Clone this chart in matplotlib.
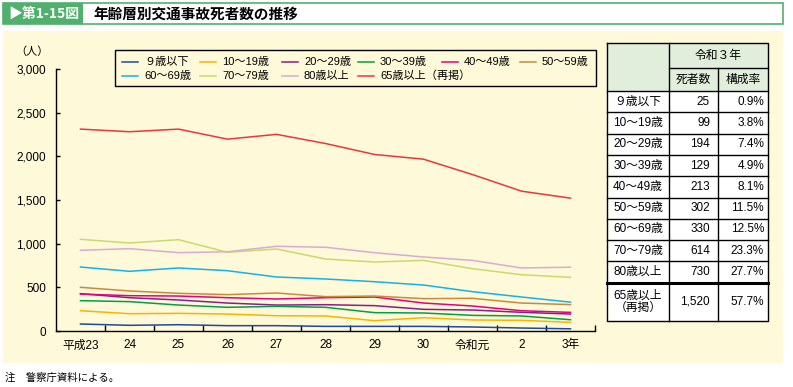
import numpy as np
import matplotlib
matplotlib.use("Agg")
import matplotlib.pyplot as plt
from matplotlib.patches import Rectangle

plt.rcParams['font.family'] = ['Liberation Sans', 'Noto Sans CJK JP', 'DejaVu Sans']
cjk = ['Noto Sans CJK JP', 'DejaVu Sans']

# data
years = ['平成23', '24', '25', '26', '27', '28', '29', '30', '令和元', '2', '3年']
age_groups = ['９歳以下', '10～19歳', '20～29歳', '30～39歳', '40～49歳', '50～59歳',
              '60～69歳', '70～79歳', '80歳以上', '65歳以上（再掲）']
under9 = [80, 65, 72, 61, 61, 53, 53, 53, 46, 34, 25]
age10s = [232, 198, 202, 194, 175, 172, 118, 152, 126, 122, 99]
age20s = [427, 381, 355, 320, 297, 301, 290, 248, 240, 214, 194]
age30s = [347, 336, 297, 271, 282, 271, 210, 206, 179, 172, 129]
age40s = [423, 404, 400, 381, 366, 381, 389, 320, 286, 232, 213]
age50s = [500, 458, 431, 416, 435, 393, 400, 370, 374, 320, 302]
age60s = [732, 683, 721, 690, 618, 595, 564, 526, 450, 389, 330]
age70s = [1049, 1007, 1045, 900, 938, 824, 789, 808, 713, 644, 614]
age80 = [923, 942, 896, 907, 969, 958, 896, 847, 808, 721, 730]
over65 = [2310, 2280, 2310, 2195, 2250, 2145, 2020, 1966, 1790, 1600, 1520]
series = [under9, age10s, age20s, age30s, age40s, age50s, age60s, age70s, age80, over65]
colors = ['#1d4a9c', '#f7b500', '#8c1c8c', '#00a046', '#e5007f', '#c98a3c',
          '#16b1e6', '#c9da6c', '#d9abd3', '#e8383d']

table_rows = ['９歳以下', '10～19歳', '20～29歳', '30～39歳', '40～49歳', '50～59歳',
              '60～69歳', '70～79歳', '80歳以上', '65歳以上\n（再掲）']
table_deaths = [25, 99, 194, 129, 213, 302, 330, 614, 730, 1520]
table_share = [0.9, 3.8, 7.4, 4.9, 8.1, 11.5, 12.5, 23.3, 27.7, 57.7]

W, H = 793, 387
green = '#52b06e'
cream = '#fef9d8'
fig = plt.figure(figsize=(W / 100, H / 100), dpi=100)

# background layer in pixel coordinates
bg = fig.add_axes([0, 0, 1, 1], zorder=0)
bg.set_xlim(0, W)
bg.set_ylim(H, 0)
bg.axis('off')

bg.add_patch(Rectangle((3, 31), 780, 332, fc=cream, ec='none'))
bg.add_patch(Rectangle((3, 3), 780, 21, fc='white', ec=green, lw=1.2))
bg.add_patch(Rectangle((3, 3), 80, 21, fc=green, ec='none'))
bg.text(8, 13.5, '▶第1-15図', color='white', fontsize=10, fontweight='bold', va='center',
        family=cjk)
bg.text(93, 13.5, '年齢層別交通事故死者数の推移', color='black', fontsize=10.5,
        fontweight='bold', va='center', family=cjk)
bg.text(32, 52, '（人）', fontsize=8, ha='center', va='center', family=cjk)
bg.text(5, 378, '注　警察庁資料による。', fontsize=7.5, va='center', family=cjk)

# legend (hand placed, rows of 6 and 4)
bg.add_patch(Rectangle((115, 50), 481, 36, fc=cream, ec='black', lw=1.0))
col_x = [122, 200, 282, 358, 442, 520]
row_y = [61.5, 75.5]
for i, (lab, c) in enumerate(zip(age_groups, colors)):
    r, k = divmod(i, 6)
    x0, y0 = col_x[k], row_y[r]
    bg.plot([x0, x0 + 16], [y0, y0], color=c, lw=1.1)
    bg.text(x0 + 22, y0, lab, fontsize=8, va='center')

# table
tx = [607, 669, 718, 768]
top, h1, h2 = 43, 68, 91
rh = 21.3
body_bottom = h2 + rh * 9
bottom = 321
bg.add_patch(Rectangle((tx[0], top), tx[3] - tx[0], h2 - top, fc='#e1eedb', ec='none'))
bg.add_patch(Rectangle((tx[0], h2), tx[3] - tx[0], bottom - h2, fc='white', ec='none'))
lw = 1.0
bg.plot([tx[0], tx[3], tx[3], tx[0], tx[0]], [top, top, bottom, bottom, top], color='black', lw=lw)
bg.plot([tx[1], tx[1]], [top, bottom], color='black', lw=lw)
bg.plot([tx[2], tx[2]], [h1, bottom], color='black', lw=lw)
bg.plot([tx[1], tx[3]], [h1, h1], color='black', lw=lw)
bg.plot([tx[0], tx[3]], [h2, h2], color='black', lw=lw)
for j in range(1, 9):
    yy = h2 + rh * j
    bg.plot([tx[0], tx[3]], [yy, yy], color='black', lw=lw)
bg.plot([tx[0], tx[3]], [body_bottom, body_bottom], color='black', lw=2.2)
bg.text((tx[1] + tx[3]) / 2, (top + h1) / 2, '令和３年', fontsize=8.5, ha='center', va='center',
        family=cjk)
bg.text((tx[1] + tx[2]) / 2, (h1 + h2) / 2, '死者数', fontsize=8.5, ha='center', va='center',
        family=cjk)
bg.text((tx[2] + tx[3]) / 2, (h1 + h2) / 2, '構成率', fontsize=8.5, ha='center', va='center',
        family=cjk)
for j, (lab, d, s) in enumerate(zip(table_rows, table_deaths, table_share)):
    if j < 9:
        yc = h2 + rh * (j + 0.5)
    else:
        yc = (body_bottom + bottom) / 2
    bg.text((tx[0] + tx[1]) / 2, yc, lab, fontsize=8.5, ha='center', va='center',
            linespacing=1.1)
    bg.text(tx[2] - 8, yc, f'{d:,}', fontsize=8.5, ha='right', va='center')
    bg.text(tx[3] - 4, yc, f'{s:.1f}%', fontsize=8.5, ha='right', va='center')

# line chart
ax = fig.add_axes([56 / W, 1 - 331 / H, (595 - 56) / W, (331 - 68.8) / H], zorder=1)
ax.patch.set_alpha(0)
x = np.arange(len(years))
for vals, c in zip(series, colors):
    ax.plot(x, vals, color=c, lw=1.1)
ax.set_xlim(-0.5, len(years) - 0.5)
ax.set_ylim(0, 3000)
ax.spines[['top', 'right']].set_visible(False)
ax.spines[['left', 'bottom']].set_linewidth(1.0)
ax.set_xticks(x)
ax.set_xticklabels(years, fontsize=8.5)
ax.tick_params(axis='x', which='major', length=0, pad=6)
ax.set_xticks(np.arange(0.5, len(years), 1), minor=True)
ax.tick_params(axis='x', which='minor', direction='in', length=4, width=1.0)
yt = list(range(0, 3001, 500))
ax.set_yticks(yt)
ax.set_yticklabels([f'{v:,}' for v in yt], fontsize=8.5)
ax.tick_params(axis='y', direction='in', length=3, width=1.0, pad=7)

fig.savefig('out.png', dpi=100)
